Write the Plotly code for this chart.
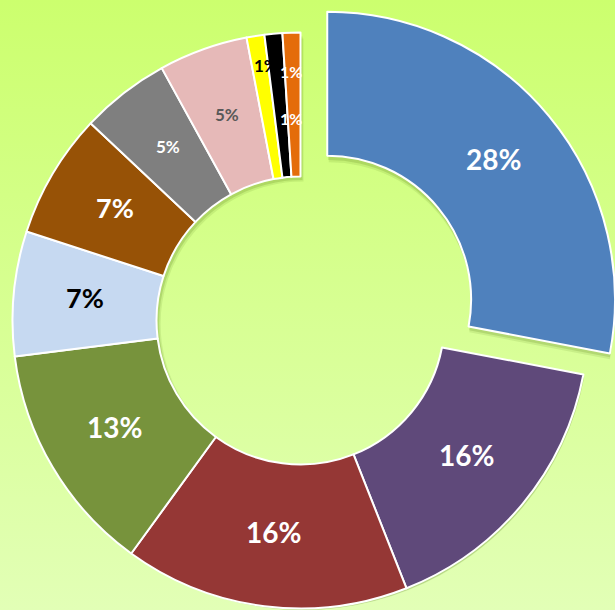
import base64
import math
import plotly.graph_objects as go

# ---------------- data ----------------
categories = ["Cat 1", "Cat 2", "Cat 3", "Cat 4", "Cat 5", "Cat 6",
              "Cat 7", "Cat 8", "Cat 9", "Cat 10", "Cat 11"]
values = [28, 16, 16, 13, 7, 7, 5, 5, 1, 1, 1]
colors = ["#4F81BD", "#5F497A", "#953735", "#77933C", "#C6D9F1", "#975206",
          "#7F7F7F", "#E6B9B8", "#FFFF00", "#000000", "#E46C0A"]
text_colors = ["white", "white", "white", "white", "black", "white",
               "white", "#595959", "black", "white", "white"]
text_sizes = [28, 28, 28, 28, 27, 27, 17, 17, 17, 16, 16]
pulled_index = 0
small_label_indices = [8, 9, 10]

# ---------------- geometry / styling ----------------
W, H = 615, 610
CX, CY, R = 300.5, 320.5, 288      # main donut centre/radius in px
PDX, PDY = 27, -21                 # offset of the exploded slice in px
HOLE = 0.5
FONT = "Lato"
TRANSP = "rgba(0,0,0,0)"


def domain(cx, cy, r):
    return dict(x=[max(0, (cx - r) / W), min(1, (cx + r) / W)],
                y=[max(0, 1 - (cy + r) / H), min(1, 1 - (cy - r) / H)])


total = sum(values)
pct = [f"{round(100 * v / total)}%" for v in values]

fig = go.Figure()

# shadows
for dx, dy, a in [(2, 4, 0.16), (3, 6, 0.10)]:
    for pulled in (False, True):
        cols = []
        for i in range(len(values)):
            show = (i == pulled_index) == pulled
            cols.append(f"rgba(60,100,0,{a})" if show else TRANSP)
        ox, oy = (PDX, PDY) if pulled else (0, 0)
        fig.add_trace(go.Pie(
            labels=categories, values=values, sort=False, direction="clockwise",
            rotation=0, hole=HOLE, textinfo="none", hoverinfo="skip",
            marker=dict(colors=cols, line=dict(width=0)),
            domain=domain(CX + ox + dx, CY + oy + dy, R), showlegend=False))

# main ring (without the exploded slice)
main_cols = [TRANSP if i == pulled_index else c for i, c in enumerate(colors)]
main_lw = [0 if i == pulled_index else 2 for i in range(len(values))]
fig.add_trace(go.Pie(
    labels=categories, values=values, sort=False, direction="clockwise",
    rotation=0, hole=HOLE, textinfo="none",
    marker=dict(colors=main_cols, line=dict(color="white", width=main_lw)),
    domain=domain(CX, CY, R), showlegend=False, hoverinfo="label+percent"))

# exploded slice
p_cols = [c if i == pulled_index else TRANSP for i, c in enumerate(colors)]
p_lw = [2 if i == pulled_index else 0 for i in range(len(values))]
fig.add_trace(go.Pie(
    labels=categories, values=values, sort=False, direction="clockwise",
    rotation=0, hole=HOLE, textinfo="none",
    marker=dict(colors=p_cols, line=dict(color="white", width=p_lw)),
    domain=domain(CX + PDX, CY + PDY, R), showlegend=False, hoverinfo="label+percent"))

# data labels: centred at the middle of each ring segment
small_label_px = {8: (266, 66), 9: (291, 118), 10: (291, 71)}
cum = 0
for i, v in enumerate(values):
    mid = (cum + v / 2) / total * 2 * math.pi
    cum += v
    if i in small_label_indices:
        px, py = small_label_px[i]
    else:
        cx, cy = (CX + PDX, CY + PDY) if i == pulled_index else (CX, CY)
        rr = R * (1 + HOLE) / 2
        px = cx + rr * math.sin(mid)
        py = cy - rr * math.cos(mid) - 3
    fig.add_annotation(x=px / W, y=1 - py / H, xref="paper", yref="paper",
                       xanchor="center", yanchor="middle",
                       text=f"<b>{pct[i]}</b>", showarrow=False,
                       font=dict(family=FONT, size=text_sizes[i], color=text_colors[i]))

# gradient background
svg = ('<svg xmlns="http://www.w3.org/2000/svg" width="615" height="610">'
       '<defs><linearGradient id="g" x1="0" y1="0" x2="0" y2="1">'
       '<stop offset="0" stop-color="#CCFF6E"/>'
       '<stop offset="1" stop-color="#E2FFB6"/>'
       '</linearGradient></defs>'
       '<rect width="615" height="610" fill="url(#g)"/></svg>')
src = "data:image/svg+xml;base64," + base64.b64encode(svg.encode()).decode()
fig.add_layout_image(source=src, xref="paper", yref="paper", x=0, y=1,
                     sizex=1, sizey=1, sizing="stretch", layer="below",
                     xanchor="left", yanchor="top")

fig.update_layout(width=W, height=H, margin=dict(l=0, r=0, t=0, b=0),
                  paper_bgcolor="#D6FF90", plot_bgcolor="rgba(0,0,0,0)",
                  showlegend=False)

fig.write_html("out.html", config={"displayModeBar": False},
               post_script="document.body.style.margin='0';"
                           "document.body.style.overflow='hidden';")
